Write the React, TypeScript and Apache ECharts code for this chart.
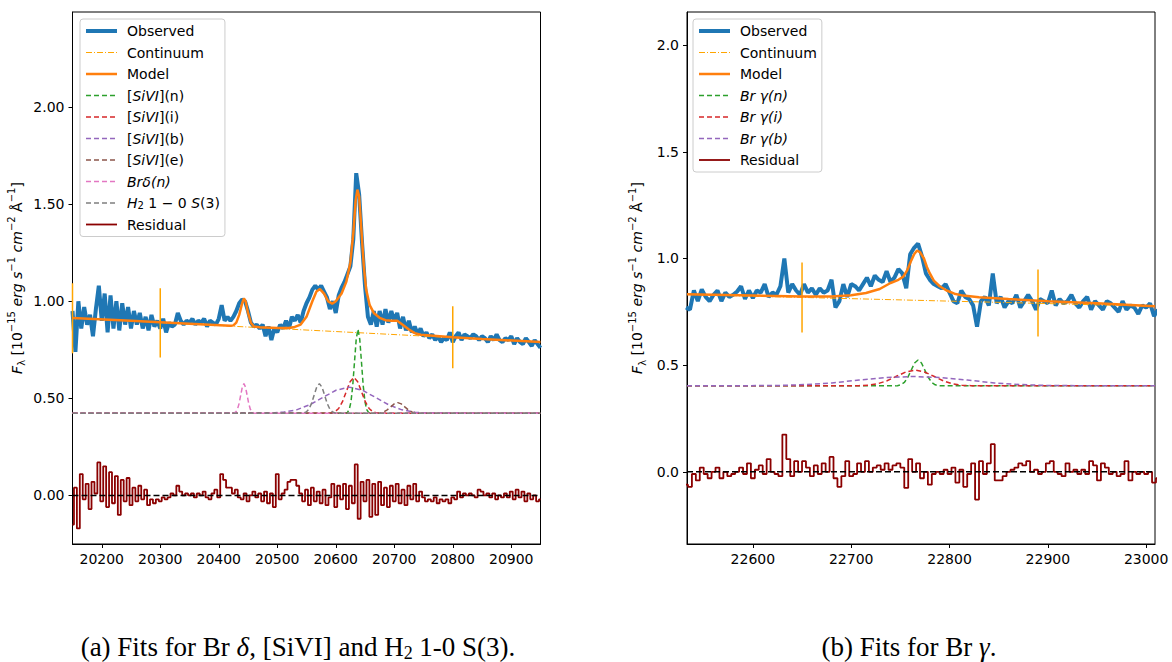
import React, { useEffect, useRef } from 'react';
import * as echarts from 'echarts';

// ---------------- DATA ----------------
// Left panel: Br delta, [SiVI], H2 1-0 S(3)
const leftXTicks = [20200, 20300, 20400, 20500, 20600, 20700, 20800, 20900];
const leftYTicks = [0, 0.5, 1, 1.5, 2];
const obsLeftStart = 20150;
const obsLeftStep = 5;
const obsLeft = [
  0.95, 0.74, 1.0, 0.86, 0.97, 0.88, 0.93, 0.82, 0.96, 1.08,
  0.9, 1.04, 0.84, 1.03, 0.86, 1.0, 0.85, 0.99, 0.88, 0.97,
  0.86, 0.95, 0.88, 0.94, 0.86, 0.92, 0.85, 0.93, 0.87, 0.9,
  0.86, 0.91, 0.84, 0.89, 0.87, 0.88, 0.94, 0.9, 0.88, 0.9,
  0.89, 0.91, 0.88, 0.9, 0.89, 0.91, 0.87, 0.9, 0.89, 0.88,
  0.91, 0.98, 0.9, 0.92, 0.9, 0.92, 0.95, 0.99, 1.01, 1.0,
  0.95, 0.89, 0.87, 0.88, 0.86, 0.88, 0.82, 0.87, 0.8, 0.86,
  0.84, 0.88, 0.86, 0.9, 0.86, 0.92, 0.9, 0.93, 0.89, 0.95,
  0.99, 1.02, 1.06, 1.08, 1.06, 1.08, 1.05, 1.02, 0.96, 1.0,
  0.94, 1.03, 1.07, 1.1, 1.14, 1.18, 1.32, 1.66, 1.55, 1.3,
  1.08, 0.92, 0.88, 0.95, 0.87, 0.95, 0.88, 0.96, 0.89, 0.95,
  0.9, 0.94, 0.86, 0.92, 0.85, 0.9, 0.84, 0.87, 0.83, 0.86,
  0.82, 0.84, 0.81, 0.83, 0.8, 0.82, 0.79, 0.81, 0.8, 0.84,
  0.79, 0.82, 0.84, 0.8, 0.83, 0.82, 0.81, 0.83, 0.82, 0.8,
  0.82, 0.81, 0.79, 0.82, 0.8, 0.83, 0.8, 0.79, 0.81, 0.8,
  0.82, 0.78, 0.81, 0.79, 0.78, 0.81, 0.79, 0.77, 0.8, 0.78,
  0.76,
];
const resLeft = [
  -0.15, 0.04, -0.17, 0.11, -0.02, 0.06, -0.07, 0.07, 0.01, 0.17,
  -0.03, 0.15, -0.06, 0.12, -0.04, 0.1, -0.1, 0.08, -0.03, 0.09,
  -0.05, 0.04, -0.03, 0.05, -0.02, 0.03, -0.05, -0.02, -0.04, -0.02,
  -0.03, -0.01, -0.02, -0.01, 0.01, 0.0, 0.05, 0.02, 0.0, 0.01,
  0.0, 0.01, -0.01, 0.01, 0.0, 0.02, -0.01, -0.02, 0.01, 0.03,
  -0.01, 0.11, 0.08, 0.04, 0.04, 0.01, 0.03, -0.01, -0.02, 0.01,
  -0.03, 0.0, 0.02, -0.01, 0.01, -0.03, 0.02, -0.04, 0.01, -0.06,
  0.11, -0.02, 0.01, 0.03, 0.07, 0.08, 0.08, 0.05, 0.01, -0.03,
  0.03, -0.05, 0.04, -0.03, 0.02, -0.04, 0.03, -0.05, -0.01, 0.06,
  -0.06, 0.05, -0.02, 0.06, -0.07, 0.05, -0.04, 0.16, -0.12, 0.07,
  -0.03, 0.08, -0.11, 0.06, -0.1, 0.07, -0.05, 0.04, -0.06, 0.05,
  -0.03, 0.06, -0.04, 0.03, -0.05, 0.05, -0.02, 0.06, -0.03, 0.02,
  -0.01, -0.03, -0.02, -0.03, -0.01, -0.04, -0.02, -0.03, -0.02, -0.04,
  -0.01, -0.02, 0.02, -0.01, 0.01, 0.0, 0.01, 0.0, -0.01, 0.03,
  0.02, 0.0, 0.01, -0.01, 0.01, -0.02, 0.0, -0.01, 0.01, -0.01,
  0.02, -0.02, 0.03, -0.01, 0.02, -0.03, 0.01, -0.02, 0.0, -0.03,
  -0.02,
];
const contLeft = [[20150, 0.914], [20950, 0.79]];
const modelLeft = [
  [20150, 0.914], [20250, 0.9], [20350, 0.885], [20420, 0.874], [20425, 0.876], [20430, 0.89],
  [20435, 0.93], [20440, 0.99], [20443, 1.015], [20446, 1.0], [20450, 0.94], [20455, 0.89],
  [20460, 0.87], [20470, 0.866], [20500, 0.862], [20520, 0.862], [20530, 0.868], [20540, 0.88],
  [20550, 0.92], [20560, 1.0], [20567, 1.05], [20573, 1.063], [20580, 1.04], [20587, 1.0],
  [20594, 0.988], [20600, 1.0], [20610, 1.04], [20618, 1.1], [20625, 1.2], [20630, 1.35],
  [20634, 1.52], [20637, 1.575], [20640, 1.54], [20644, 1.36], [20648, 1.18], [20652, 1.06],
  [20658, 0.98], [20665, 0.94], [20675, 0.915], [20685, 0.903], [20695, 0.9], [20705, 0.9],
  [20715, 0.878], [20725, 0.855], [20735, 0.836], [20745, 0.828], [20800, 0.815], [20850, 0.806],
  [20950, 0.79],
];
const siviN = [
  [20150, 0.423], [20614, 0.423], [20620, 0.428], [20623, 0.442], [20626, 0.482], [20629, 0.564],
  [20632, 0.686], [20635, 0.805], [20638, 0.856], [20641, 0.805], [20644, 0.686], [20647, 0.564],
  [20650, 0.482], [20653, 0.442], [20656, 0.428], [20662, 0.423], [20950, 0.423],
];
const siviI = [
  [20150, 0.423], [20585, 0.424], [20592, 0.425], [20598.5, 0.431], [20605, 0.448], [20611.5, 0.483],
  [20618, 0.535], [20624.5, 0.586], [20631, 0.608], [20637.5, 0.586], [20644, 0.535], [20650.5, 0.483],
  [20657, 0.448], [20663.5, 0.431], [20670, 0.425], [20680, 0.423], [20950, 0.423],
];
const siviB = [
  [20150, 0.423], [20488, 0.4245], [20510.5, 0.429], [20533, 0.441], [20555.5, 0.467], [20578, 0.505],
  [20600.5, 0.542], [20623, 0.558], [20645.5, 0.542], [20668, 0.505], [20690.5, 0.467], [20713, 0.441],
  [20735.5, 0.429], [20758, 0.4245], [20950, 0.423],
];
const siviE = [
  [20150, 0.423], [20670, 0.423], [20676, 0.425], [20682, 0.43], [20688, 0.441], [20694, 0.456],
  [20700, 0.4715], [20706, 0.478], [20712, 0.4715], [20718, 0.456], [20724, 0.441], [20730, 0.43],
  [20736, 0.425], [20742, 0.423], [20950, 0.423],
];
const brdN = [
  [20150, 0.423], [20424, 0.423], [20426.5, 0.425], [20429.25, 0.43], [20432, 0.444], [20434.75, 0.473],
  [20437.5, 0.516], [20440.25, 0.558], [20443, 0.576], [20445.75, 0.558], [20448.5, 0.516], [20451.25, 0.473],
  [20454, 0.444], [20456.75, 0.43], [20459.5, 0.425], [20462, 0.423], [20950, 0.423],
];
const h2Line = [
  [20150, 0.423], [20541, 0.423], [20545, 0.425], [20549.5, 0.43], [20554, 0.444], [20558.5, 0.473],
  [20563, 0.516], [20567.5, 0.558], [20572, 0.576], [20576.5, 0.558], [20581, 0.516], [20585.5, 0.473],
  [20590, 0.444], [20594.5, 0.43], [20599, 0.425], [20605, 0.423], [20950, 0.423],
];
// [wavelength, top, bottom]
const markersLeft = [[20150, 1.093, 0.732], [20300, 1.067, 0.711], [20800, 0.974, 0.655]];

// Right panel: Br gamma
const rightXTicks = [22600, 22700, 22800, 22900, 23000];
const rightYTicks = [0, 0.5, 1, 1.5, 2];
const obsRightStart = 22532;
const obsRightStep = 4;
const obsRight = [
  0.77, 0.76, 0.85, 0.8, 0.855, 0.82, 0.8, 0.83, 0.85, 0.8,
  0.84, 0.82, 0.83, 0.845, 0.87, 0.81, 0.85, 0.815, 0.85, 0.84,
  0.88, 0.82, 0.84, 0.83, 0.87, 1.0, 0.84, 0.88, 0.85, 0.83,
  0.88, 0.84, 0.86, 0.83, 0.86, 0.84, 0.85, 0.9, 0.77, 0.8,
  0.88, 0.82, 0.88, 0.87, 0.85, 0.88, 0.91, 0.87, 0.92, 0.9,
  0.89, 0.94, 0.89, 0.91, 0.95, 0.93, 0.86, 1.02, 1.05, 1.07,
  1.01, 0.93, 0.9, 0.88, 0.87, 0.86, 0.88, 0.84, 0.8, 0.79,
  0.85, 0.82, 0.81, 0.78, 0.68, 0.8, 0.82, 0.78, 0.93, 0.79,
  0.82, 0.77, 0.8, 0.79, 0.83, 0.77, 0.8, 0.83, 0.8, 0.76,
  0.81, 0.8, 0.79, 0.85, 0.78, 0.81, 0.79, 0.8, 0.83, 0.79,
  0.77, 0.8, 0.82, 0.76, 0.8, 0.78, 0.76, 0.8, 0.79, 0.77,
  0.75, 0.8, 0.76, 0.78, 0.77, 0.74, 0.78, 0.77, 0.79, 0.73,
  0.76,
];
const resRight = [
  -0.06, -0.07, -0.01, -0.04, 0.02, -0.01, -0.03, 0.0, 0.02, -0.03,
  0.0, -0.02, -0.01, 0.0, 0.02, -0.01, 0.04, -0.03, 0.01, 0.03,
  -0.01, 0.06, 0.0, -0.01, -0.02, 0.175, 0.06, -0.02, 0.05, 0.0,
  0.05, 0.02, -0.02, 0.03, -0.01, 0.04, 0.0, 0.07, -0.03, -0.07,
  -0.02, 0.05, -0.02, -0.01, 0.04, 0.0, 0.05, 0.0, 0.02, 0.03,
  0.01, 0.04, 0.01, 0.03, 0.04, 0.02, -0.075, 0.06, 0.0, 0.04,
  -0.03, 0.0, -0.06, -0.01, 0.0, -0.01, 0.01, -0.01, 0.02, -0.05,
  0.01, -0.07, -0.01, 0.04, -0.13, 0.05, -0.01, 0.04, 0.13, -0.04,
  -0.04, -0.02, 0.0, 0.01, 0.02, 0.04, 0.03, 0.05, 0.0, 0.01,
  -0.01, 0.0, 0.04, 0.05, 0.0, -0.01, -0.02, 0.04, 0.0, 0.01,
  -0.01, 0.01, -0.01, 0.05, 0.03, -0.04, 0.04, 0.02, -0.01, 0.0,
  -0.02, -0.01, 0.05, -0.04, 0.0, -0.01, 0.0, -0.01, 0.0, -0.05,
  -0.03,
];
const contRight = [[22533, 0.831], [23009, 0.776]];
const modelRight = [
  [22533, 0.832], [22600, 0.826], [22650, 0.822], [22680, 0.822], [22700, 0.828], [22715, 0.838],
  [22729, 0.857], [22740, 0.885], [22748, 0.9], [22753, 0.915], [22757, 0.945], [22761, 0.99],
  [22764, 1.02], [22767, 1.037], [22770, 1.03], [22774, 1.0], [22777, 0.96], [22780, 0.93],
  [22784, 0.896], [22790, 0.87], [22797, 0.85], [22805, 0.835], [22814, 0.826], [22830, 0.818],
  [22860, 0.81], [22900, 0.8], [22950, 0.79], [23009, 0.776],
];
const brgN = [
  [22533, 0.403], [22745, 0.403], [22747, 0.404], [22750.5, 0.408], [22754, 0.419], [22757.5, 0.442],
  [22761, 0.476], [22764.5, 0.51], [22768, 0.524], [22771.5, 0.51], [22775, 0.476], [22778.5, 0.442],
  [22782, 0.419], [22785.5, 0.408], [22789, 0.404], [22792, 0.403], [23009, 0.403],
];
const brgI = [
  [22533, 0.403], [22700, 0.403], [22708, 0.404], [22717.5, 0.406], [22727, 0.413], [22736.5, 0.427],
  [22746, 0.448], [22755.5, 0.468], [22765, 0.477], [22774.5, 0.468], [22784, 0.448], [22793.5, 0.427],
  [22803, 0.413], [22812.5, 0.406], [22822, 0.404], [22830, 0.403], [23009, 0.403],
];
const brgB = [
  [22533, 0.403], [22598, 0.404], [22625.5, 0.405], [22653, 0.409], [22680.5, 0.417], [22708, 0.43],
  [22735.5, 0.442], [22763, 0.447], [22790.5, 0.442], [22818, 0.43], [22845.5, 0.417], [22873, 0.409],
  [22900.5, 0.405], [22928, 0.404], [23009, 0.403],
];
const markersRight = [[22650, 0.981, 0.653], [22890, 0.948, 0.634]];

const leftLegend = ['Observed', 'Continuum', 'Model', 'SiVI_n', 'SiVI_i', 'SiVI_b', 'SiVI_e', 'BrD_n', 'H2', 'Residual'];
const rightLegend = ['Observed', 'Continuum', 'Model', 'BrG_n', 'BrG_i', 'BrG_b', 'Residual'];
const legendLabels: Record<string, string> = {
  Observed: 'Observed',
  Continuum: 'Continuum',
  Model: 'Model',
  SiVI_n: '[{i|SiVI}](n)',
  SiVI_i: '[{i|SiVI}](i)',
  SiVI_b: '[{i|SiVI}](b)',
  SiVI_e: '[{i|SiVI}](e)',
  BrD_n: '{i|Brδ(n)}',
  H2: '{i|H}{sub|2} 1 − 0 {i|S}(3)',
  BrG_n: '{i|Br γ(n)}',
  BrG_i: '{i|Br γ(i)}',
  BrG_b: '{i|Br γ(b)}',
  Residual: 'Residual',
};

// ---------------- STYLE ----------------
const FONT = 'DejaVu Sans';
const C = {
  obs: '#1f77b4', cont: '#ffa500', model: '#ff7f0e', green: '#2ca02c', red: '#d62728',
  purple: '#9467bd', brown: '#8c564b', pink: '#e377c2', gray: '#7f7f7f', res: '#8b0000',
};
const DASH = [5, 3];
const W: Record<string, number> = { Observed: 4, Continuum: 1, Model: 2.5, Residual: 1.8 };

const pairs = (start: number, step: number, vals: number[]) => vals.map((v, i) => [start + i * step, v]);

function line(name: string, data: any[], color: string, width: number, type: any, idx: number, z: number, extra: any = {}) {
  return {
    name, type: 'line', xAxisIndex: idx, yAxisIndex: idx, data, symbol: 'none', showSymbol: false,
    lineStyle: { color, width, type, cap: 'butt' }, itemStyle: { color }, z, silent: true, ...extra,
  };
}

function markerSeries(m: number[][], idx: number) {
  return m.map((r) => line('', [[r[0], r[1]], [r[0], r[2]]], C.cont, 1.5, 'solid', idx, 3));
}

function xAxis(idx: number, min: number, max: number, ticks: number[]) {
  return {
    gridIndex: idx, type: 'value', min, max,
    axisLine: { show: true, onZero: false, lineStyle: { color: '#000', width: 1 } },
    axisTick: { show: true, length: 4, lineStyle: { color: '#000' }, customValues: ticks },
    axisLabel: { customValues: ticks, fontFamily: FONT, fontSize: 14, color: '#000', margin: 8, formatter: (v: number) => String(v) },
    splitLine: { show: false },
  };
}

const yName = '{i|F}{sub|λ} [10{sup|−15} {i|erg s}{sup|−1} {i|cm}{sup|−2} Å{sup|−1}]';
const nameRich = {
  i: { fontStyle: 'italic', fontFamily: FONT, fontSize: 14, color: '#000', lineHeight: 20 },
  sub: { fontFamily: FONT, fontSize: 10, color: '#000', lineHeight: 10, verticalAlign: 'bottom' },
  sup: { fontFamily: FONT, fontSize: 10, color: '#000', lineHeight: 10, verticalAlign: 'top' },
};

function yAxis(idx: number, min: number, max: number, ticks: number[], digits: number, gap: number) {
  return {
    gridIndex: idx, type: 'value', min, max,
    axisLine: { show: true, onZero: false, lineStyle: { color: '#000', width: 1 } },
    axisTick: { show: true, length: 4, lineStyle: { color: '#000' }, customValues: ticks },
    axisLabel: { customValues: ticks, fontFamily: FONT, fontSize: 14, color: '#000', margin: 8, formatter: (v: number) => v.toFixed(digits) },
    splitLine: { show: false },
    name: yName, nameLocation: 'middle', nameGap: gap,
    nameTextStyle: { fontFamily: FONT, fontSize: 14, color: '#000', lineHeight: 20, rich: nameRich },
  };
}

function legend(names: string[], left: number) {
  return {
    data: names.map((n) => ({ name: n, lineStyle: { width: W[n] ?? 1.5 } })),
    orient: 'vertical', left, top: 19, padding: [5, 5, 5, 4],
    itemWidth: 31, itemHeight: 14, itemGap: 7.5,
    backgroundColor: 'rgba(255,255,255,0.8)', borderColor: '#cccccc', borderWidth: 1, borderRadius: 3,
    selectedMode: false,
    formatter: (n: string) => legendLabels[n],
    itemStyle: { opacity: 0 },
    textStyle: {
      fontFamily: FONT, fontSize: 14, color: '#000', lineHeight: 14, padding: [0, 0, 0, 5],
      rich: {
        i: { fontStyle: 'italic', fontFamily: FONT, fontSize: 14, color: '#000', lineHeight: 14 },
        sub: { fontFamily: FONT, fontSize: 10, color: '#000', lineHeight: 10, verticalAlign: 'bottom' },
      },
    },
  };
}

function buildOption() {
  const L = 0, R = 1;
  const series: any[] = [
    // left
    line('Observed', pairs(obsLeftStart, obsLeftStep, obsLeft), C.obs, W.Observed, 'solid', L, 2),
    ...markerSeries(markersLeft, L),
    line('Continuum', contLeft, C.cont, W.Continuum, [6, 2, 1, 2], L, 4),
    line('Model', modelLeft, C.model, W.Model, 'solid', L, 5),
    line('SiVI_n', siviN, C.green, 1.5, DASH, L, 6),
    line('SiVI_i', siviI, C.red, 1.5, DASH, L, 6),
    line('SiVI_b', siviB, C.purple, 1.5, DASH, L, 6),
    line('SiVI_e', siviE, C.brown, 1.5, DASH, L, 6),
    line('BrD_n', brdN, C.pink, 1.5, DASH, L, 6),
    line('H2', h2Line, C.gray, 1.5, DASH, L, 6),
    line('Residual', pairs(obsLeftStart, obsLeftStep, resLeft), C.res, W.Residual, 'solid', L, 7, { step: 'middle' }),
    line('', [[20150, 0], [20950, 0]], '#000', 1.5, [6, 3], L, 8),
    // right
    line('Observed', pairs(obsRightStart, obsRightStep, obsRight), C.obs, W.Observed, 'solid', R, 2),
    ...markerSeries(markersRight, R),
    line('Continuum', contRight, C.cont, W.Continuum, [6, 2, 1, 2], R, 4),
    line('Model', modelRight, C.model, W.Model, 'solid', R, 5),
    line('BrG_n', brgN, C.green, 1.5, DASH, R, 6),
    line('BrG_i', brgI, C.red, 1.5, DASH, R, 6),
    line('BrG_b', brgB, C.purple, 1.5, DASH, R, 6),
    line('Residual', pairs(obsRightStart, obsRightStep, resRight), C.res, W.Residual, 'solid', R, 7, { step: 'middle' }),
    line('', [[22533, 0], [23009, 0]], '#000', 1.5, [6, 3], R, 8),
  ];
  const CF = 'Liberation Serif';
  const captionRich = {
    i: { fontStyle: 'italic', fontFamily: CF, fontSize: 27, fill: '#000', lineHeight: 30 },
    sub: { fontFamily: CF, fontSize: 18, fill: '#000', lineHeight: 18, verticalAlign: 'bottom' },
  };
  const capStyle = { rich: captionRich, fontFamily: CF, fontSize: 27, lineHeight: 30, fill: '#000', align: 'center', verticalAlign: 'middle' };
  return {
    animation: false,
    backgroundColor: '#ffffff',
    grid: [
      { left: 72.5, top: 12, width: 468, height: 532, show: true, borderColor: '#000', borderWidth: 1, backgroundColor: 'transparent' },
      { left: 687, top: 12, width: 468, height: 532, show: true, borderColor: '#000', borderWidth: 1, backgroundColor: 'transparent' },
    ],
    xAxis: [xAxis(L, 20150, 20950, leftXTicks), xAxis(R, 22533, 23009, rightXTicks)],
    yAxis: [yAxis(L, -0.25, 2.49, leftYTicks, 2, 46), yAxis(R, -0.338, 2.155, rightYTicks, 1, 40)],
    legend: [legend(leftLegend, 80), legend(rightLegend, 693)],
    series,
    graphic: [
      { type: 'text', x: 298, y: 647, silent: true, style: { ...capStyle, text: '(a) Fits for Br {i|δ}, [SiVI] and H{sub|2} 1-0 S(3).' } },
      { type: 'text', x: 909, y: 647, silent: true, style: { ...capStyle, text: '(b) Fits for Br {i|γ}.' } },
    ],
  };
}

export default function App() {
  const ref = useRef<HTMLDivElement>(null);
  useEffect(() => {
    document.body.style.margin = '0';
    const chart = echarts.init(ref.current!, null, { renderer: 'svg' });
    chart.setOption(buildOption() as any);
    return () => chart.dispose();
  }, []);
  return <div ref={ref} style={{ width: 1172, height: 662 }} />;
}
